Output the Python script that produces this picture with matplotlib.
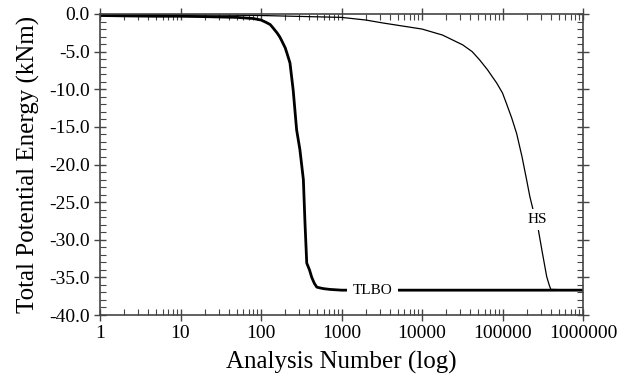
import numpy as np
import matplotlib.pyplot as plt
from matplotlib.ticker import LogLocator, MultipleLocator, FixedLocator

# convergence histories
tlbo_x = [1, 2, 5, 10, 20, 50, 80, 100, 115, 130, 140, 158, 170, 180, 200, 210, 229,
          251, 277, 304, 336, 352, 370, 400, 427, 460, 494, 540, 600, 720, 1000, 1e6]
tlbo_y = [-0.2, -0.25, -0.3, -0.3, -0.35, -0.45, -0.6, -0.8, -1.1, -1.4, -1.8, -2.5,
          -3.0, -3.5, -4.5, -5.2, -6.5, -10.1, -15.4, -18.0, -22.0, -27.8, -33.1,
          -34.0, -35.0, -35.8, -36.3, -36.4, -36.5, -36.6, -36.7, -36.7]

hs_x = [1, 10, 100, 1000, 2000, 3300, 5000, 10000, 18000, 32000, 42000, 52000, 65000,
        85000, 100000, 112000, 130000, 150000, 175000, 199000, 219000, 250000, 279000,
        310000, 354000, 380000, 398000, 1e6]
hs_y = [-0.05, -0.1, -0.2, -0.45, -0.8, -1.2, -1.5, -2.0, -2.8, -4.1, -5.0, -6.1, -7.4,
        -9.2, -10.5, -11.9, -13.8, -15.9, -19.0, -22.0, -24.3, -26.8, -28.7,
        -31.5, -34.9, -36.0, -36.6, -36.7]

xticks = [1, 10, 100, 1000, 10000, 100000, 1000000]
xticklabels = ['1', '10', '100', '1000', '10000', '100000', '1000000']
yticks = [0, -5, -10, -15, -20, -25, -30, -35, -40]

plt.rcParams['font.family'] = ['Liberation Serif', 'DejaVu Serif']

fig = plt.figure(figsize=(6.28, 3.83), dpi=100)
ax = fig.add_axes([100 / 628, 1 - 315 / 383, 483 / 628, 301 / 383])

ax.plot(hs_x, hs_y, color='black', lw=0.9)
ax.plot(tlbo_x, tlbo_y, color='black', lw=2.0)

ax.text(2450, -36.75, 'TLBO', fontsize=11, ha='center', va='center',
        bbox=dict(facecolor='white', edgecolor='none', pad=4))
ax.text(268000, -27.3, 'HS', fontsize=11, ha='center', va='center',
        bbox=dict(facecolor='white', edgecolor='none', pad=3))

ax.set_xscale('log')
ax.set_xlim(1, 1e6)
ax.set_ylim(-40, 0)
ax.xaxis.set_major_locator(FixedLocator(xticks))
ax.set_xticklabels(xticklabels)
ax.xaxis.set_minor_locator(LogLocator(base=10, subs=np.arange(2, 10), numticks=20))
ax.yaxis.set_major_locator(FixedLocator(yticks))
ax.set_yticklabels(['%.1f' % v for v in yticks])
ax.yaxis.set_minor_locator(MultipleLocator(1))

ax.tick_params(which='major', direction='inout', length=8, width=1,
               top=True, right=True, labelsize=14, color='#444444')
ax.tick_params(which='minor', direction='in', length=4, width=0.8,
               top=True, right=True, color='#444444')
for s in ax.spines.values():
    s.set_color('#444444')
    s.set_linewidth(1.2)

ax.set_xlabel('Analysis Number (log)', fontsize=18, labelpad=6)
ax.set_ylabel('Total Potential Energy (kNm)', fontsize=18, labelpad=6)

fig.savefig('out.png', dpi=100)
